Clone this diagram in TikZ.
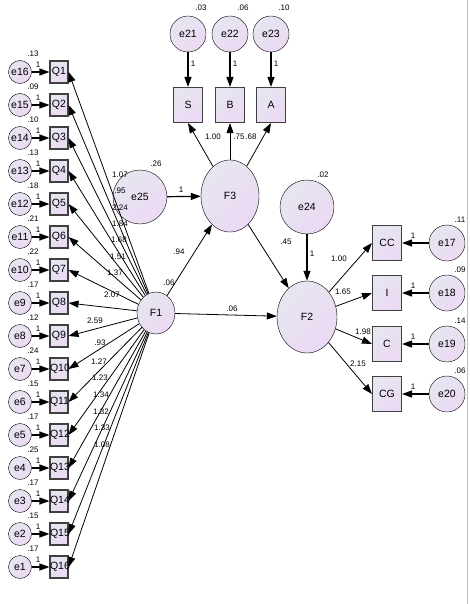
\documentclass[tikz,border=0pt]{standalone}
\usepackage{fontspec}
\setmainfont{Liberation Sans}
\usetikzlibrary{arrows.meta,shapes.geometric}
\definecolor{lavtop}{HTML}{E6E6F0}
\definecolor{lavbot}{HTML}{ECD9F4}
\tikzset{
  lav/.style={top color=lavtop, bottom color=lavbot, shading angle=45},
  err/.style={circle, draw, lav, minimum size=23pt, inner sep=0pt, font=\fontsize{10.5}{12}\selectfont},
  latent/.style={ellipse, draw, lav, inner sep=0pt, font=\fontsize{10.5}{12}\selectfont},
  item/.style={rectangle, draw=black!75, line width=1.1pt, lav, inner sep=0pt, text width=18pt, align=center, minimum height=22pt, font=\fontsize{10.5}{12}\selectfont},
  obs/.style={item, text width=29pt, minimum height=35pt},
  num/.style={inner sep=0pt, font=\fontsize{8}{9}\selectfont},
  reg/.style={-{Triangle[length=10pt,width=7pt]}, line width=0.8pt},
  fix/.style={reg, line width=1.2pt}
}
\begin{document}
\begin{tikzpicture}[x=1pt,y=-1pt]
\useasboundingbox (0,0) rectangle (469,604);
\draw[black!25] (467,0) -- (467,604);

\node[latent, minimum width=38pt, minimum height=42pt] (F1) at (156,313) {F1};
\node[latent, minimum width=58pt, minimum height=72pt] (F3) at (230,196) {F3};
\node[latent, minimum width=60pt, minimum height=72pt] (F2) at (307,317) {F2};
\node[err, minimum size=54pt] (e25) at (140,197) {e25};
\node[err, minimum size=54pt] (e24) at (307,207) {e24};
\draw[fix] (e25) -- (F3);
\draw[fix] (e24) -- (F2);
\draw[reg] (F1) -- (F3);
\draw[reg] (F1) -- (F2);
\draw[reg] (F3) -- (F2);
\node[num] (ve25) at (156,164) {.26};
\node[num] (one25) at (181,190) {1};
\node[num] (ve24) at (323,175) {.02};
\node[num] (one24) at (312,254) {1};
\node[num] (vF1) at (169,283) {.06};
\node[num] (wF3) at (179,252) {.94};
\node[num] (wF2) at (232,309) {.06};
\node[num] (wF32) at (286,242) {.45};

\foreach \q/\en/\vv/\ww/\lx/\ly [count=\k from 0] in {
  1/16/.13/1.07/120/175, 2/15/.09/.95/120/191, 3/14/.10/2.24/120/208,
  4/13/.13/1.84/120/224, 5/12/.18/1.68/119/240, 6/11/.21/1.51/118/257,
  7/10/.22/1.37/115/273, 8/9/.17/2.07/112/295, 9/8/.12/2.59/95/321,
  10/7/.24/.93/100/343, 11/6/.15/1.27/99/362, 12/5/.17/1.23/100/378,
  13/4/.25/1.34/101/395, 14/3/.17/1.32/101/412, 15/2/.15/1.33/102/428,
  16/1/.17/1.08/102/445}{
  \node[item] (Q\q) at (59,{72+33*\k}) {Q\q};
  \node[err] (e\en) at (20,{72+33*\k}) {e\en};
  \node[num] (ve\en) at (33,{54+33*\k}) {\vv};
  \node[num] (one\en) at (38,{65+33*\k}) {1};
  \node[num] (w\q) at (\lx,\ly) {\ww};
  \draw[fix] (e\en) -- (Q\q);
  \draw[reg] (F1) -- (Q\q.east);
}

\foreach \ob/\en/\y/\vv in {CC/17/243/.11, I/18/293/.09, C/19/344/.14, CG/20/394/.06}{
  \node[obs] (\ob) at (387,\y) {\ob};
  \node[err, minimum size=36pt] (e\en) at (447,\y) {e\en};
  \node[num] (ve\en) at (460,{\y-23}) {\vv};
  \node[num] (one\en) at (413,{\y-7}) {1};
  \draw[fix] (e\en) -- (\ob);
  \draw[reg] (F2) -- (\ob.west);
}
\node[num] (wCC) at (339,259) {1.00};
\node[num] (wI) at (343,292) {1.65};
\node[num] (wC) at (363,332) {1.98};
\node[num] (wCG) at (358,364) {2.15};

\foreach \ob/\en/\x/\vv in {S/21/188/.03, B/22/230/.06, A/23/271/.10}{
  \node[obs] (\ob) at (\x,105) {\ob};
  \node[err, minimum size=36pt] (e\en) at (\x,34) {e\en};
  \node[num] (ve\en) at ({\x+13},8) {\vv};
  \node[num] (one\en) at ({\x+5},64) {1};
  \draw[fix] (e\en) -- (\ob);
  \draw[reg] (F3) -- (\ob.south);
}
\node[num] (wS) at (213,137) {1.00};
\node[num] (wB) at (239,137) {.75};
\node[num] (wA) at (251,137) {.68};
\end{tikzpicture}
\end{document}
